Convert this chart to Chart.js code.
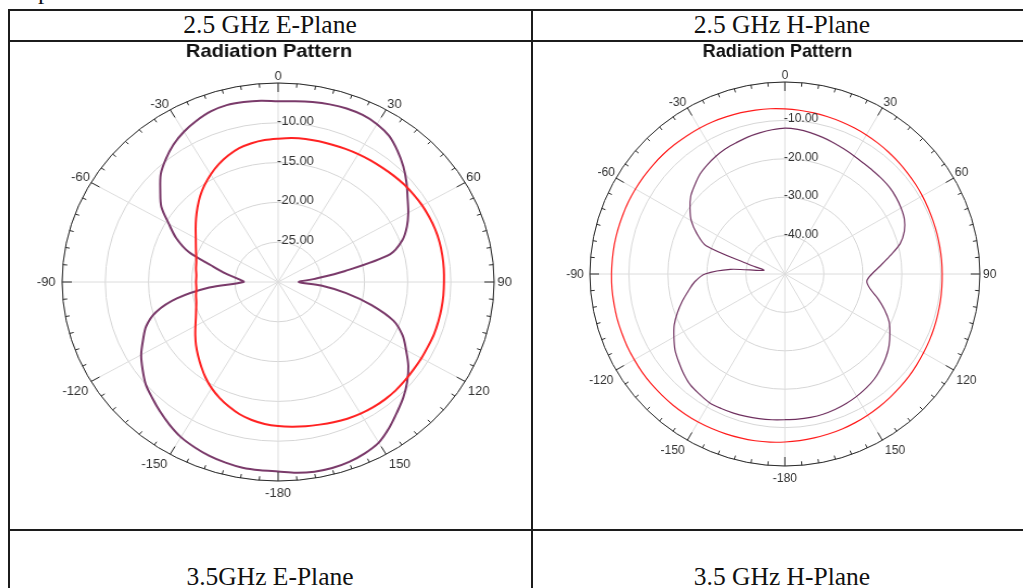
<!DOCTYPE html>
<html>
<head>
<meta charset="utf-8">
<title>Radiation Pattern</title>
<script src="https://cdn.jsdelivr.net/npm/chart.js@4.4.1/dist/chart.umd.min.js"></script>
<style>
  html, body { margin: 0; padding: 0; background: #fff; }
  body { width: 1023px; height: 588px; overflow: hidden; position: relative;
         font-family: "Liberation Serif", "Times New Roman", serif; color: #111; }
  .rule { position: absolute; background: #1c1c1c; }
  .cap { position: absolute; font-size: 25.5px; line-height: 1; white-space: nowrap; transform: translateX(-50%); }
  .frag { position: absolute; font-size: 25px; line-height: 1; }
  .plot { position: absolute; transform-origin: 0 0; }
  .plot canvas { display: block; }
</style>
</head>
<body>
<div class="frag" style="left:38px; top:-22px;">p</div>

<!-- table rules -->
<div class="rule" style="left:8px; top:9px; width:1020px; height:2px;"></div>
<div class="rule" style="left:8px; top:40px; width:1020px; height:2px;"></div>
<div class="rule" style="left:8px; top:529px; width:1020px; height:2px;"></div>
<div class="rule" style="left:8px; top:9px; width:2px; height:590px;"></div>
<div class="rule" style="left:531px; top:9px; width:2px; height:590px;"></div>

<!-- cell captions -->
<div class="cap" style="left:270px; top:12px;">2.5 GHz E-Plane</div>
<div class="cap" style="left:782px; top:12px;">2.5 GHz H-Plane</div>
<div class="cap" style="left:270px; top:564px;">3.5GHz E-Plane</div>
<div class="cap" style="left:782px; top:564px;">3.5 GHz H-Plane</div>

<div class="plot" id="wrapE" style="left:10px; top:40px; transform:scaleX(1.0854);">
  <canvas id="ePlane" width="479" height="489"></canvas>
</div>
<div class="plot" id="wrapH" style="left:533px; top:40px; transform:scaleX(1.0156);">
  <canvas id="hPlane" width="481" height="489"></canvas>
</div>

<script>
// Azimuth of every sample, degrees clockwise from the top (5 degree steps)
const angleDeg = [
  0, 5, 10, 15, 20, 25, 30, 35, 40, 45, 50, 55,
  60, 65, 70, 75, 80, 85, 90, 95, 100, 105, 110, 115,
  120, 125, 130, 135, 140, 145, 150, 155, 160, 165, 170, 175,
  180, 185, 190, 195, 200, 205, 210, 215, 220, 225, 230, 235,
  240, 245, 250, 255, 260, 265, 270, 275, 280, 285, 290, 295,
  300, 305, 310, 315, 320, 325, 330, 335, 340, 345, 350, 355
];

// Angle tick labels written round the rim, one every 30 degrees
const rimDeg    = [0, 30, 60, 90, 120, 150, 180, 210, 240, 270, 300, 330];
const rimLabels = ['0', '30', '60', '90', '120', '150', '-180', '-150', '-120', '-90', '-60', '-30'];

// 2.5 GHz E-plane, gain in dB
const eRed = [
  -12.0, -11.85, -11.75, -11.7, -11.65, -11.55, -11.45, -11.35, -11.25, -11.1, -10.95, -10.85,
  -10.75, -10.7, -10.65, -10.65, -10.7, -10.75, -10.8, -10.8, -10.8, -10.8, -10.8, -10.85,
  -10.85, -10.85, -10.8, -10.75, -10.75, -10.8, -10.9, -11.05, -11.25, -11.45, -11.6, -11.75,
  -11.9, -12.1, -12.4, -12.8, -13.35, -13.95, -14.6, -15.35, -16.15, -16.9, -17.6, -18.3,
  -18.95, -19.5, -19.9, -20.2, -20.35, -20.5, -20.5, -20.5, -20.35, -20.2, -19.9, -19.5,
  -19.0, -18.35, -17.6, -16.8, -15.95, -15.15, -14.4, -13.7, -13.1, -12.6, -12.3, -12.1
];
const ePurple = [
  -7.3, -7.2, -7.05, -6.9, -6.8, -6.85, -7.1, -7.6, -8.5, -9.5, -10.6, -11.7,
  -12.6, -13.55, -14.7, -16.6, -22.2, -25.9, -27.6, -25.0, -22.0, -18.8, -15.8, -14.1,
  -12.9, -11.6, -10.5, -9.5, -8.6, -7.6, -6.7, -6.25, -5.95, -5.8, -5.8, -5.95,
  -6.2, -6.25, -6.3, -6.5, -6.75, -7.1, -7.5, -8.1, -8.75, -9.4, -10.0, -10.85,
  -11.7, -12.75, -13.75, -15.35, -18.1, -22.0, -26.0, -25.35, -23.8, -22.0, -19.0, -17.0,
  -15.4, -13.5, -12.2, -10.8, -9.8, -8.9, -8.2, -7.65, -7.2, -7.0, -7.05, -7.15
];

// 2.5 GHz H-plane, gain in dB
const hRed = [
  -7.0, -7.2, -7.4, -7.6, -7.8, -8.0, -8.2, -8.4, -8.6, -8.8, -9.0, -9.15,
  -9.3, -9.45, -9.55, -9.6, -9.65, -9.65, -9.65, -9.6, -9.5, -9.4, -9.25, -9.1,
  -8.95, -8.75, -8.5, -8.3, -8.05, -7.8, -7.55, -7.3, -7.05, -6.85, -6.65, -6.45,
  -6.25, -6.05, -5.9, -5.8, -5.7, -5.6, -5.5, -5.45, -5.4, -5.4, -5.35, -5.35,
  -5.4, -5.4, -5.45, -5.45, -5.5, -5.5, -5.55, -5.6, -5.6, -5.65, -5.7, -5.7,
  -5.75, -5.8, -5.85, -5.9, -6.0, -6.1, -6.15, -6.25, -6.4, -6.5, -6.65, -6.8
];
const hPurple = [
  -12.0, -12.2, -12.6, -13.1, -13.6, -14.1, -14.5, -14.8, -14.9, -14.9, -14.95, -15.2,
  -15.6, -16.2, -17.4, -19.4, -22.6, -25.4, -27.7, -28.9, -27.8, -25.3, -22.8, -20.5,
  -18.9, -17.4, -16.2, -15.2, -14.3, -13.7, -13.2, -12.8, -12.45, -12.2, -12.1, -12.05,
  -12.05, -11.9, -11.75, -11.6, -11.45, -11.35, -11.3, -11.8, -12.3, -13.3, -14.45, -15.6,
  -17.15, -18.7, -20.7, -22.8, -24.9, -26.8, -29.5, -36.0, -44.5, -40.5, -28.5, -25.1,
  -22.3, -20.3, -18.5, -17.3, -16.1, -15.3, -14.6, -14.0, -13.6, -13.1, -12.7, -12.3
];

const LABEL_FONT = '12px "Liberation Sans", Arial, sans-serif';

// Rim, rim ticks, angle labels, ring values and the plot heading,
// all placed through the radial scale of the chart.
const polarFrame = {
  id: 'polarFrame',
  afterDraw(chart, args, opts) {
    const s = chart.scales.r;
    const ctx = chart.ctx;
    const cx = s.xCenter, cy = s.yCenter, R = s.drawingArea;
    ctx.save();

    ctx.strokeStyle = '#2a2a2a';
    ctx.lineWidth = 1;
    ctx.beginPath();
    ctx.arc(cx, cy, R, 0, Math.PI * 2);
    ctx.stroke();

    chart.data.labels.forEach((deg, i) => {
      const len = deg % 30 === 0 ? 9 : 4;
      const a = s.getPointPosition(i, R);
      const b = s.getPointPosition(i, R - len);
      ctx.beginPath();
      ctx.moveTo(a.x, a.y);
      ctx.lineTo(b.x, b.y);
      ctx.stroke();
    });

    ctx.fillStyle = '#333';
    ctx.font = LABEL_FONT;
    rimDeg.forEach((deg, k) => {
      const i = chart.data.labels.indexOf(deg);
      const p = s.getPointPosition(i, R);
      const text = rimLabels[k];
      let x = p.x, y = p.y;
      ctx.textBaseline = 'alphabetic';
      if (deg === 0) {
        ctx.textAlign = 'center'; y -= 3;
      } else if (deg === 180) {
        ctx.textAlign = 'center'; y += 7 + 8.6;
      } else if (deg === 90) {
        ctx.textAlign = 'left'; x += 3; y += 4.3;
      } else if (deg === 270) {
        ctx.textAlign = 'right'; x -= 6; y += 4.3;
      } else if (deg < 90) {
        ctx.textAlign = 'left'; x += 1; y -= 2;
      } else if (deg > 270) {
        ctx.textAlign = 'right'; x -= 1; y -= 2;
      } else if (deg < 180) {
        ctx.textAlign = 'left'; x += 2.5; y += 5 + 8.6;
      } else {
        ctx.textAlign = 'right'; x -= 2.5; y += 5 + 8.6;
      }
      ctx.fillText(text, x, y);
    });

    ctx.textAlign = 'left';
    ctx.textBaseline = 'alphabetic';
    s.ticks.forEach(t => {
      if (t.value === s.min || t.value === s.max) return;
      const d = s.getDistanceFromCenterForValue(t.value);
      ctx.fillText(t.value.toFixed(2), cx - 1, cy - d + 2);
    });

    ctx.fillStyle = '#111';
    ctx.font = 'bold ' + opts.titleSize + 'px "Liberation Sans", Arial, sans-serif';
    ctx.textAlign = 'center';
    ctx.fillText(opts.title, opts.titleX, opts.titleY);
    ctx.restore();
  }
};

function polarChart(canvasId, series, scale, frame) {
  return new Chart(document.getElementById(canvasId), {
    type: 'radar',
    data: {
      labels: angleDeg,
      datasets: series.map(d => ({
        data: d.values,
        borderColor: d.color,
        borderWidth: d.width,
        fill: false,
        tension: 0.3,
        pointRadius: 0,
        pointHoverRadius: 0
      }))
    },
    options: {
      responsive: false,
      animation: false,
      devicePixelRatio: 1,
      layout: { padding: frame.padding },
      plugins: {
        legend: { display: false },
        tooltip: { enabled: false },
        title: { display: false },
        polarFrame: frame
      },
      scales: {
        r: {
          min: scale.min,
          max: scale.max,
          ticks: { stepSize: scale.step, display: false },
          pointLabels: { display: false },
          grid: { circular: true, color: '#d6d6d6', lineWidth: 1 },
          angleLines: {
            color: '#dcdcdc',
            lineWidth: c => (angleDeg[c.index] % 30 === 0 ? 1 : 0)
          }
        }
      }
    },
    plugins: [polarFrame]
  });
}

polarChart('ePlane',
  [
    { values: eRed, color: '#ff2222', width: 2 },
    { values: ePurple, color: '#7a3a6a', width: 2 }
  ],
  { min: -30, max: -5, step: 5 },
  { padding: { left: 48, right: 33, top: 43, bottom: 48 },
    title: 'Radiation Pattern', titleSize: 18.5, titleX: 238.6, titleY: 16.7 }
);

polarChart('hPlane',
  [
    { values: hRed, color: '#ff1a1a', width: 1.2 },
    { values: hPurple, color: '#6e2f5e', width: 1.2 }
  ],
  { min: -50, max: 0, step: 10 },
  { padding: { left: 56, right: 41, top: 42, bottom: 63 },
    title: 'Radiation Pattern', titleSize: 17.8, titleX: 240.7, titleY: 16.7 }
);
</script>
</body>
</html>
